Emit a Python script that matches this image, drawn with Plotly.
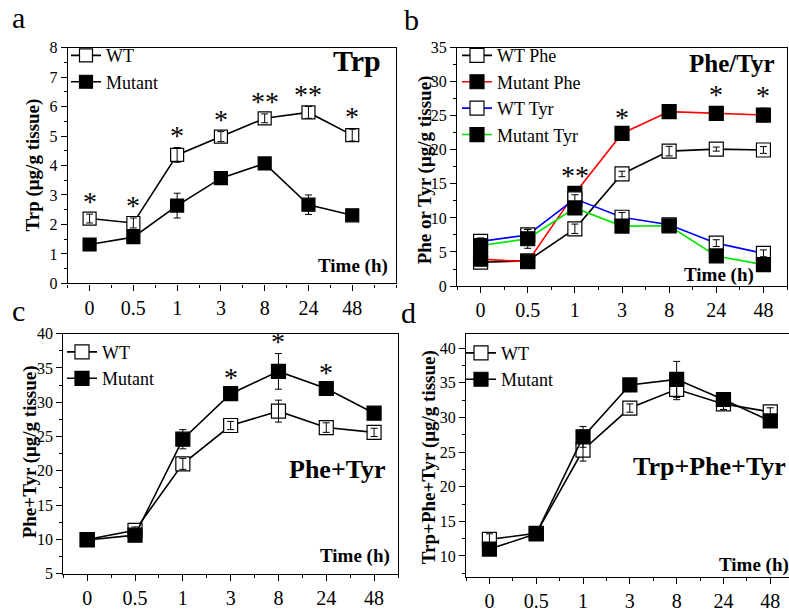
import plotly.graph_objects as go

W, H = 789, 612
FONT = "Liberation Serif, Times New Roman, serif"

time_labels = ["0", "0.5", "1", "3", "8", "24", "48"]

# Panel a: Trp
trp_wt = [2.2, 2.05, 4.36, 4.98, 5.6, 5.8, 5.03]
trp_wt_err = [0.15, 0.17, 0.25, 0.17, 0.15, 0.2, 0.2]
trp_mut = [1.32, 1.57, 2.64, 3.57, 4.07, 2.67, 2.31]
trp_mut_err = [0.08, 0.1, 0.42, 0.2, 0.1, 0.33, 0.1]
trp_sig = ["*", "*", "*", "*", "**", "**", "*"]

# Panel b: Phe / Tyr
phe_wt = [3.5, 3.7, 8.4, 16.45, 19.8, 20.1, 19.97]
phe_wt_err = [0.5, 0.3, 0.7, 0.4, 0.7, 0.3, 0.5]
phe_mut = [3.95, 3.57, 13.6, 22.4, 25.6, 25.35, 25.1]
phe_mut_err = [0.4, 0.4, 0.8, 0.5, 0.3, 1.0, 1.0]
tyr_wt = [6.56, 7.5, 12.8, 10.1, 9.0, 6.3, 4.8]
tyr_wt_err = [0.5, 0.8, 0.6, 0.7, 0.3, 0.5, 0.5]
tyr_mut = [5.94, 6.94, 11.46, 8.8, 8.84, 4.42, 3.14]
tyr_mut_err = [0.6, 1.4, 0.8, 0.5, 0.3, 0.7, 0.5]
phetyr_sig = ["", "", "**", "*", "", "*", "*"]

# Panel c: Phe+Tyr
pt_wt = [9.97, 11.3, 21.0, 26.6, 28.7, 26.3, 25.6]
pt_wt_err = [0.3, 0.5, 0.8, 0.6, 1.6, 0.7, 0.6]
pt_mut = [9.9, 10.6, 24.6, 31.25, 34.5, 32.0, 28.4]
pt_mut_err = [0.3, 0.7, 1.4, 0.5, 2.6, 0.5, 0.4]
pt_sig = ["", "", "", "*", "*", "*", ""]

# Panel d: Trp+Phe+Tyr
tpt_wt = [12.4, 13.27, 25.3, 31.36, 34.07, 31.96, 30.8]
tpt_wt_err = [0.8, 0.5, 1.6, 0.6, 1.5, 0.8, 0.6]
tpt_mut = [11.0, 13.2, 27.2, 34.7, 35.5, 32.6, 29.5]
tpt_mut_err = [0.5, 0.6, 1.5, 0.4, 2.6, 0.6, 0.6]

xi = list(range(len(time_labels)))

fig = go.Figure()


def add_series(name, y, err, filled, color, ax, legend, msize=14):
    xa = "x" if ax == 1 else f"x{ax}"
    ya = "y" if ax == 1 else f"y{ax}"
    fig.add_trace(go.Scatter(
        x=xi, y=y, mode="lines+markers", name=name,
        line=dict(color=color, width=1.6),
        marker=dict(symbol="square", size=msize,
                    color="black" if filled else "white",
                    line=dict(color="black", width=1.2)),
        xaxis=xa, yaxis=ya, legend=legend, hoverinfo="skip"))
    # error bars drawn on top of markers
    fig.add_trace(go.Scatter(
        x=xi, y=y, mode="markers", showlegend=False, hoverinfo="skip",
        marker=dict(size=1, color="rgba(0,0,0,0)"),
        error_y=dict(type="data", array=err, color="black", thickness=1, width=3.5),
        xaxis=xa, yaxis=ya))


add_series("WT", trp_wt, trp_wt_err, False, "black", 1, "legend", 13)
add_series("Mutant", trp_mut, trp_mut_err, True, "black", 1, "legend", 13)

add_series("WT Phe", phe_wt, phe_wt_err, False, "black", 2, "legend2")
add_series("Mutant Phe", phe_mut, phe_mut_err, True, "#ff0000", 2, "legend2")
add_series("WT Tyr", tyr_wt, tyr_wt_err, False, "#0000ff", 2, "legend2")
add_series("Mutant Tyr", tyr_mut, tyr_mut_err, True, "#00e600", 2, "legend2")

add_series("WT", pt_wt, pt_wt_err, False, "black", 3, "legend3")
add_series("Mutant", pt_mut, pt_mut_err, True, "black", 3, "legend3")

add_series("WT", tpt_wt, tpt_wt_err, False, "black", 4, "legend4")
add_series("Mutant", tpt_mut, tpt_mut_err, True, "black", 4, "legend4")


def px_x(p):
    return p / W


def px_y(p):
    return 1 - p / H


def xaxis(dom, rng, anchor):
    return dict(domain=[px_x(dom[0]), px_x(dom[1])], range=rng, anchor=anchor,
                tickmode="array", tickvals=xi, ticktext=time_labels,
                ticks="outside", ticklen=6, tickwidth=1, tickcolor="black",
                minor=dict(tickmode="linear", tick0=0, dtick=0.5, ticks="outside",
                           ticklen=3, tickcolor="black"),
                showline=True, linecolor="black", linewidth=1.2, mirror=True,
                showgrid=False, zeroline=False,
                tickfont=dict(family=FONT, size=20, color="black"))


def yaxis(dom, rng, dtick, mdtick, anchor, mirror=True):
    return dict(domain=[px_y(dom[1]), px_y(dom[0])], range=rng, anchor=anchor,
                tickmode="linear", tick0=0, dtick=dtick,
                ticks="outside", ticklen=6, tickwidth=1, tickcolor="black",
                minor=dict(tickmode="linear", tick0=0, dtick=mdtick, ticks="outside",
                           ticklen=3, tickcolor="black"),
                showline=True, linecolor="black", linewidth=1.2, mirror=mirror,
                showgrid=False, zeroline=False,
                tickfont=dict(family=FONT, size=16, color="black"))


fig.update_layout(
    width=W, height=H, margin=dict(l=0, r=0, t=0, b=0),
    paper_bgcolor="white", plot_bgcolor="white", showlegend=True,
    xaxis=xaxis((67.7, 396), [-0.5, 7.0], "y"),
    yaxis=yaxis((40.7, 283.3), [0, 8], 1, 0.5, "x"),
    xaxis2=xaxis((457, 787), [-0.5, 6.5], "y2"),
    yaxis2=yaxis((40.7, 286), [0, 35], 5, 2.5, "x2"),
    xaxis3=xaxis((63.3, 398), [-0.5, 6.5], "y3"),
    yaxis3=yaxis((335, 581.7), [5, 40], 5, 2.5, "x3"),
    xaxis4=xaxis((466, 789), [-0.5, 6.4], "y4"),
    yaxis4=yaxis((335.7, 585), [7, 42], 5, 2.5, "x4", mirror=False),
)

leg_common = dict(bgcolor="rgba(0,0,0,0)", borderwidth=0, xanchor="left", yanchor="top",
                  font=dict(family=FONT, size=18, color="black"), tracegroupgap=0)
fig.update_layout(
    legend=dict(x=px_x(66), y=px_y(30), **leg_common),
    legend2=dict(x=px_x(457), y=px_y(30), **leg_common),
    legend3=dict(x=px_x(62), y=px_y(335), **leg_common),
    legend4=dict(x=px_x(461), y=px_y(336), **leg_common),
)

ann = []


def text_px(x, y, text, size, bold=False, angle=0):
    ann.append(dict(x=px_x(x), y=px_y(y), xref="paper", yref="paper", text=text,
                    showarrow=False, xanchor="center", yanchor="middle", textangle=angle,
                    font=dict(family=FONT, size=size, color="black",
                              weight="bold" if bold else "normal")))


# panel letters
text_px(18, 10, "a", 30)
text_px(411, 12, "b", 30)
text_px(18, 311, "c", 30)
text_px(408, 313, "d", 30)

# panel titles
text_px(357, 54, "Trp", 30, True)
text_px(732, 57, "Phe/Tyr", 25, True)
text_px(337, 475, "Phe+Tyr", 26, True)
text_px(709, 472, "Trp+Phe+Tyr", 26, True)

# time labels
text_px(353, 265, "Time (h)", 19, True)
text_px(719, 275, "Time (h)", 19, True)
text_px(355, 564, "Time (h)", 19, True)
text_px(754, 573, "Time (h)", 19, True)

# y titles
text_px(33, 162, "Trp (μg/g tissue)", 19, True, -90)
text_px(425, 167, "Phe or Tyr (μg/g tissue)", 19, True, -90)
text_px(30, 457, "Phe+Tyr (μg/g tissue)", 19, True, -90)
text_px(429, 462, "Trp+Phe+Tyr (μg/g tissue)", 19, True, -90)


def stars(sig, vals, errs, xa, ya):
    for i, s in enumerate(sig):
        if not s:
            continue
        ann.append(dict(x=xi[i], y=vals[i] + errs[i], xref=xa, yref=ya, text=s,
                        showarrow=False, xanchor="center", yanchor="bottom", yshift=-5,
                        font=dict(family=FONT, size=28, color="black")))


stars(trp_sig, trp_wt, trp_wt_err, "x", "y")
stars(phetyr_sig, phe_mut, phe_mut_err, "x2", "y2")
stars(pt_sig, pt_mut, pt_mut_err, "x3", "y3")

fig.update_layout(annotations=ann)

fig.write_html("out.html")
